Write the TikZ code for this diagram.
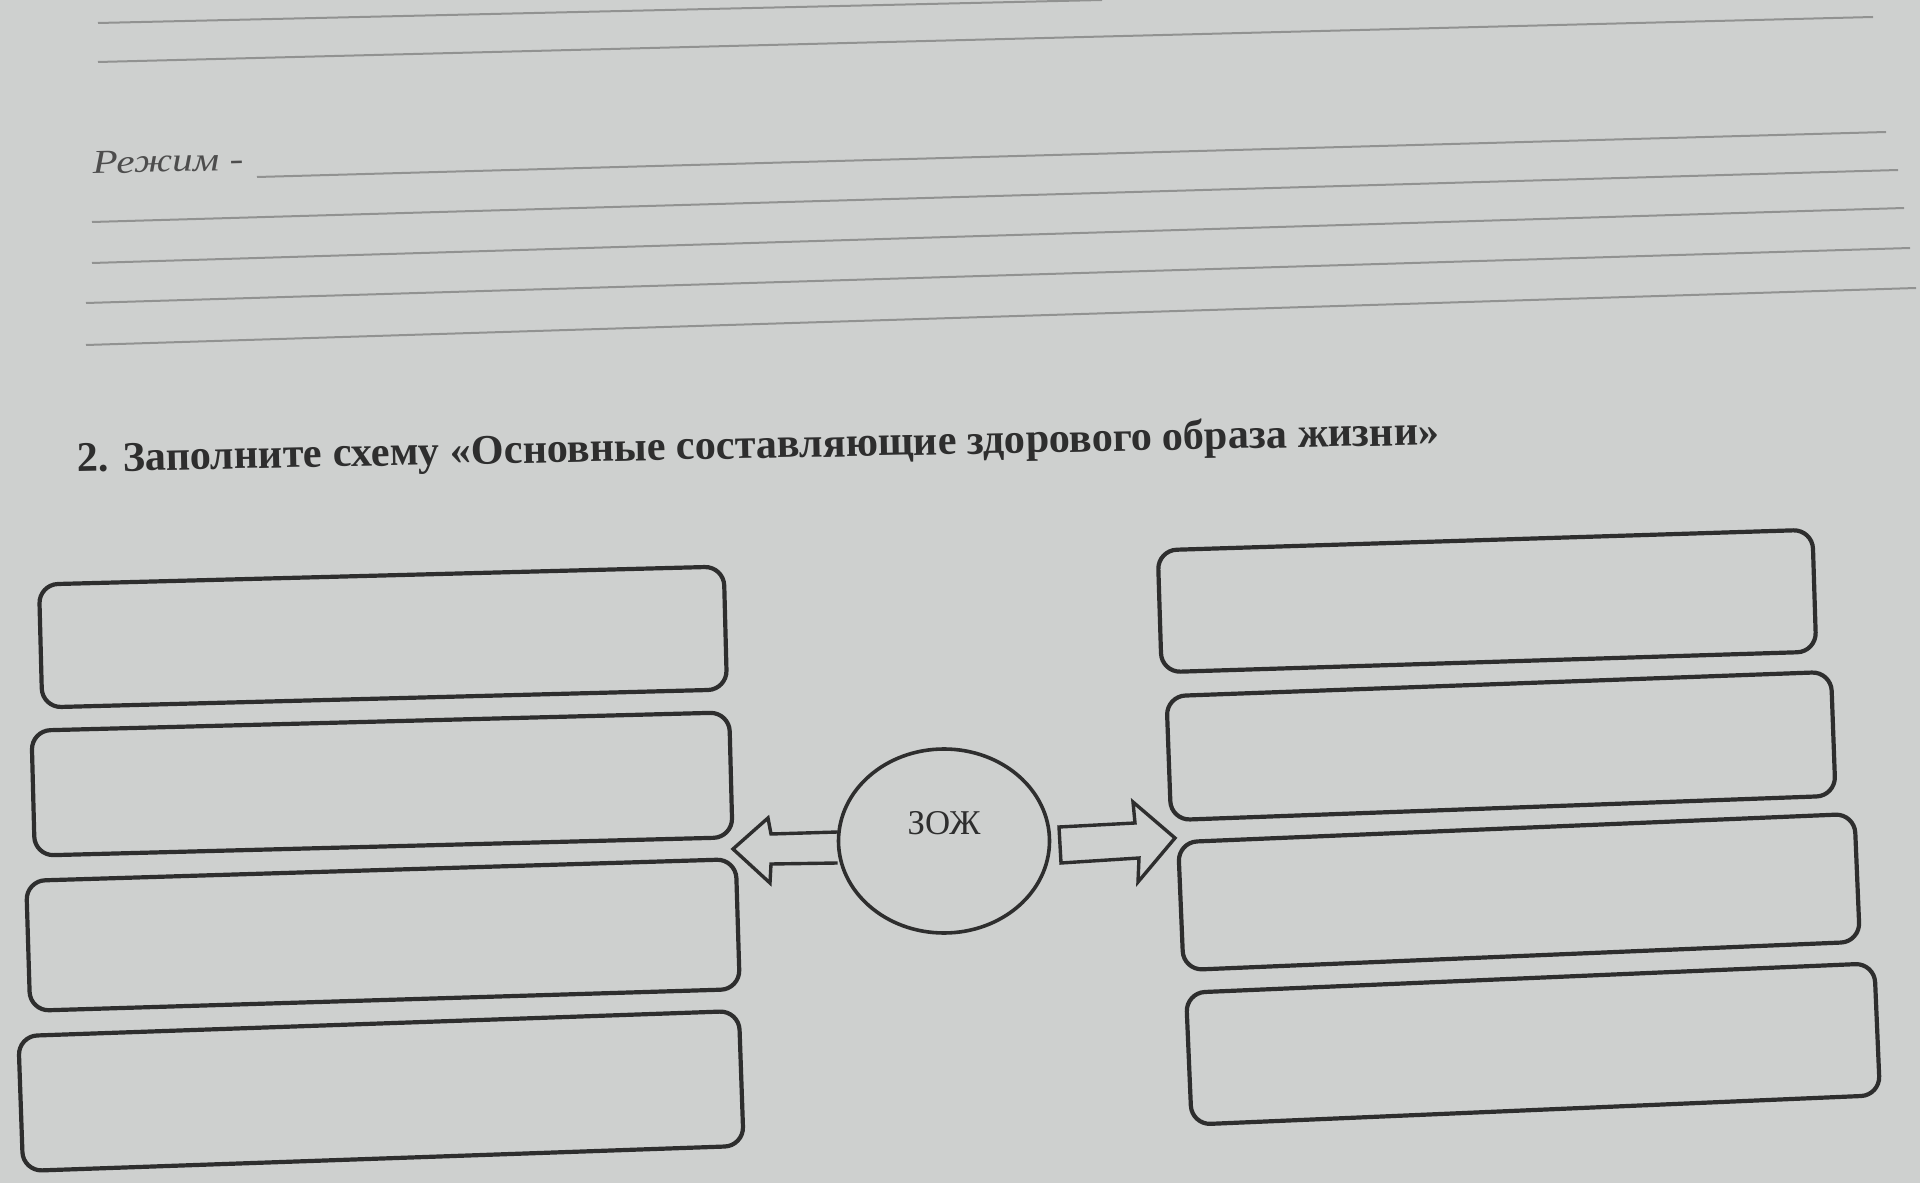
\documentclass[tikz,border=0pt]{standalone}
\usepackage{fontspec}
\setmainfont{Liberation Serif}
\usepackage{xcolor}
\usetikzlibrary{calc,shapes.geometric}
\definecolor{paper}{RGB}{206,208,207}
\definecolor{ink}{RGB}{46,46,46}
\definecolor{pencil}{RGB}{145,146,145}
\tikzset{
  answer/.style={ % image of an empty answer box
    draw=ink, line width=0.42mm, rectangle,
    rounded corners=1.9mm, inner sep=0pt
  },
  zojcircle/.style={ % image of the centre ellipse
    draw=ink, line width=0.36mm, ellipse,
    minimum width=21.1mm, minimum height=18.4mm, inner sep=0pt
  },
  fatarrow/.style={
    draw=ink, line width=0.34mm, line join=miter
  },
  writeline/.style={
    draw=pencil, line width=0.2mm
  }
}

\begin{document}
\begin{tikzpicture}[x=0.1mm,y=-0.1mm]

      \fill[paper] (0,0) rectangle (1920,1183);
      \useasboundingbox (0,0) rectangle (1920,1183);

      % lines to write on
      \draw[writeline] (98,23) -- (1102,0);
      \draw[writeline] (98,62) -- (1873,17);
      \draw[writeline] (257,177) -- (1886,132);
      \draw[writeline] (92,222) -- (1898,170);
      \draw[writeline] (92,263) -- (1904,208);
      \draw[writeline] (86,303) -- (1910,248);
      \draw[writeline] (86,345) -- (1916,288);
      \node (rezhim_label)[anchor=base west, inner sep=0pt, rotate=1.5, xscale=1.24,
        text=ink!85, font=\fontsize{9.5pt}{11pt}\selectfont\itshape] at (92,174) {Режим -};

      \node (title)[anchor=base west, inner sep=0pt, rotate=1.15, text=ink,
        font=\fontsize{12pt}{14pt}\selectfont\bfseries] at (77,472)
        {2. Заполните схему «Основные составляющие здорового образа жизни»};

      \node[answer, minimum width=68.5mm, minimum height=12.3mm, rotate=1.5] (L1) at (383,637) {};
      \node[answer, minimum width=69.8mm, minimum height=12.5mm, rotate=1.5] (L2) at (382,784) {};
      \node[answer, minimum width=71.0mm, minimum height=13.0mm, rotate=1.75] (L3) at (383,935) {};
      \node[answer, minimum width=72.1mm, minimum height=13.5mm, rotate=2.0] (L4) at (381,1091) {};

      \node[answer, minimum width=65.5mm, minimum height=12.2mm, rotate=1.8] (R1) at (1487,601) {};
      \node[answer, minimum width=66.5mm, minimum height=12.4mm, rotate=2.1] (R2) at (1501,746) {};
      \node[answer, minimum width=67.7mm, minimum height=12.8mm, rotate=2.4] (R3) at (1519,892) {};
      \node[answer, minimum width=68.9mm, minimum height=13.2mm, rotate=2.45] (R4) at (1533,1044) {};

      \node[zojcircle, label={[text=ink, yshift=1.8mm,
        font=\fontsize{9.9pt}{12pt}\selectfont]center:ЗОЖ}] (zoj) at (944,841) {};

      \coordinate (ltip) at (733,849);
      \coordinate (rtip) at (1175,838);
      \draw[fatarrow] ($(zoj.west)+(1,-9)$) -- ($(ltip)+(38,-15)$) -- ($(ltip)+(35,-31)$)
        -- (ltip) -- ($(ltip)+(37,34)$) -- ($(ltip)+(38,15)$) -- ($(zoj.west)+(1,22)$);
      \draw[fatarrow] ($(rtip)+(-116,-11)$) -- ($(rtip)+(-40,-15)$) -- ($(rtip)+(-42,-36)$)
        -- (rtip) -- ($(rtip)+(-37,44)$) -- ($(rtip)+(-36,20)$) -- ($(rtip)+(-114,25)$) -- cycle;
    \end{tikzpicture}
\end{document}
